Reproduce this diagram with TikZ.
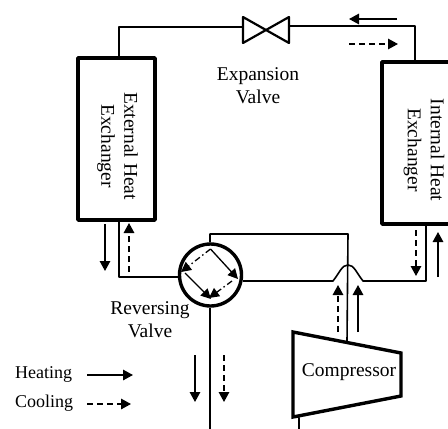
\documentclass[tikz,border=0pt]{standalone}
\usepackage{fontspec}
\setmainfont{Liberation Serif}
\usetikzlibrary{positioning, calc, arrows.meta}
\tikzset{pipe/.style={line width=1.6pt, line join=round}}
\tikzset{heavy/.style={draw, line width=3.6pt, line join=round}}
\tikzset{lbl/.style={font=\fontsize{19.5}{23}\selectfont, align=center, inner sep=0pt}}
\tikzset{legendlbl/.style={font=\fontsize{18}{22}\selectfont, inner sep=0pt}}
\tikzset{heatflow/.style={line width=1.5pt, -{Triangle[length=10pt,width=10.5pt]}}}
\tikzset{coolflow/.style={heatflow, dash pattern=on 6pt off 4pt}}
\tikzset{rvcool/.style={line width=1.3pt, dash pattern=on 6pt off 3pt on 1.5pt off 3pt, -{Triangle[length=10pt,width=10pt]}}}
\tikzset{rvheat/.style={line width=1.3pt, -{Triangle[length=10pt,width=10pt]}}}

\begin{document}
\begin{tikzpicture}[x=1pt, y=-1pt]
      \useasboundingbox (0,0) rectangle (448,429);
      \clip (0,0) rectangle (448,429);

      % heat exchangers
      \node[heavy, minimum width=77pt, minimum height=162pt] (hxe) at (116.5,139) {};
      \node[heavy, minimum width=100pt, minimum height=162pt] (hxi) at (432,143) {};
      \node[lbl, rotate=-90] (hxetext) at (117.5,146) {External Heat\\Exchanger};
      \node[lbl, rotate=-90] (hxitext) at (424,150) {Internal Heat\\Exchanger};

      % expansion valve
      \coordinate (ev) at (266,30);
      \draw[pipe, line width=2.2pt] ($(ev)+(-23,-13)$) -- ($(ev)+(23,13)$)
        -- ($(ev)+(23,-13)$) -- ($(ev)+(-23,13)$) -- cycle;
      \node[lbl] (evtext) at (258,86) {Expansion\\Valve};

      % reversing valve
      \node[circle, draw, line width=3.4pt, minimum size=62pt, inner sep=0pt] (rv) at (210.5,275) {};
      \node[lbl] (rvtext) at (150,320) {Reversing\\Valve};

      % compressor
      \coordinate (c1) at (293,332);
      \coordinate (c2) at (401,353);
      \coordinate (c3) at (401,396);
      \coordinate (c4) at (293,417);
      \draw[line width=3.4pt, line join=miter] (c1) -- (c2) -- (c3) -- (c4) -- cycle;
      \node[lbl] (comptext) at (349,372) {Compressor};

      % pipe corners
      \coordinate (j1) at (119,27);
      \coordinate (j2) at (415,26);
      \coordinate (j3) at (119,277);
      \coordinate (j4) at (210,234);
      \coordinate (j5) at (348,234);
      \coordinate (j6) at (426,281);
      \coordinate (h1) at (333,281);
      \coordinate (h2) at (348,265);
      \coordinate (h3) at (363,281);
      \coordinate (out) at (299,429);
      \coordinate (rvout) at (210,429);

      \draw[pipe] (hxe.north -| j1) -- (j1) -- ($(ev)+(-23,-3)$);
      \draw[pipe] ($(ev)+(23,-4)$) -- (j2) -- (hxi.north -| j2);
      \draw[pipe] (hxe.south -| j3) -- (j3) -- (j3 -| rv.west);
      \draw[pipe] (j4 |- rv.north) -- (j4) -- (j5) -- ($(c1)!.5!(c2)$);
      \draw[pipe] (h1 -| rv.east) -- (h1) .. controls (340,272) and (342,265) .. (h2)
        .. controls (354,265) and (356,272) .. (h3) -- (j6) -- (hxi.south -| j6);
      \draw[pipe] (rv.south -| rvout) -- (rvout);
      \draw[pipe] ($(c4)!.055!(c3)$) -- (out);

      % inside the reversing valve
      \coordinate (rvn) at (210.5,249);
      \coordinate (rve) at (238,279);
      \coordinate (rvw) at (185,273);
      \coordinate (rvs) at (211,299);
      \draw[rvheat] (rvn) -- (rve);
      \draw[rvheat] (rvw) -- (rvs);
      \draw[rvcool] (rvn) -- (181,272);
      \draw[rvcool] (232,281) -- (209,298);

      % flow arrows
      \coordinate (a1) at (397,19);
      \coordinate (a2) at (349,19);
      \coordinate (b1) at (349,44);
      \coordinate (b2) at (398,44);
      \draw[heatflow] (a1) -- (a2);
      \draw[coolflow] (b1) -- (b2);

      \coordinate (a3) at (105,224);
      \coordinate (a4) at (105,271);
      \coordinate (b3) at (129,272);
      \coordinate (b4) at (129,223);
      \draw[heatflow] (a3) -- (a4);
      \draw[coolflow] (b3) -- (b4);

      \coordinate (a5) at (438,277);
      \coordinate (a6) at (438,232);
      \coordinate (b5) at (416,230);
      \coordinate (b6) at (416,276);
      \draw[heatflow] (a5) -- (a6);
      \draw[coolflow] (b5) -- (b6);

      \coordinate (a7) at (358,332);
      \coordinate (a8) at (358,285);
      \coordinate (b7) at (338,332);
      \coordinate (b8) at (338,285);
      \draw[heatflow] (a7) -- (a8);
      \draw[coolflow] (b7) -- (b8);

      \coordinate (a9) at (195,355);
      \coordinate (a10) at (195,402);
      \coordinate (b9) at (224,355);
      \coordinate (b10) at (224,402);
      \draw[heatflow] (a9) -- (a10);
      \draw[coolflow] (b9) -- (b10);

      % legend
      \node[legendlbl, anchor=base west] (heat) at (15,378) {Heating};
      \node[legendlbl, anchor=base west] (cool) at (15,407) {Cooling};
      \coordinate (la1) at (87,375);
      \coordinate (la2) at (133,375);
      \coordinate (lb1) at (87,404);
      \coordinate (lb2) at (131,404);
      \draw[heatflow] (la1) -- (la2);
      \draw[coolflow] (lb1) -- (lb2);
    \end{tikzpicture}
\end{document}
